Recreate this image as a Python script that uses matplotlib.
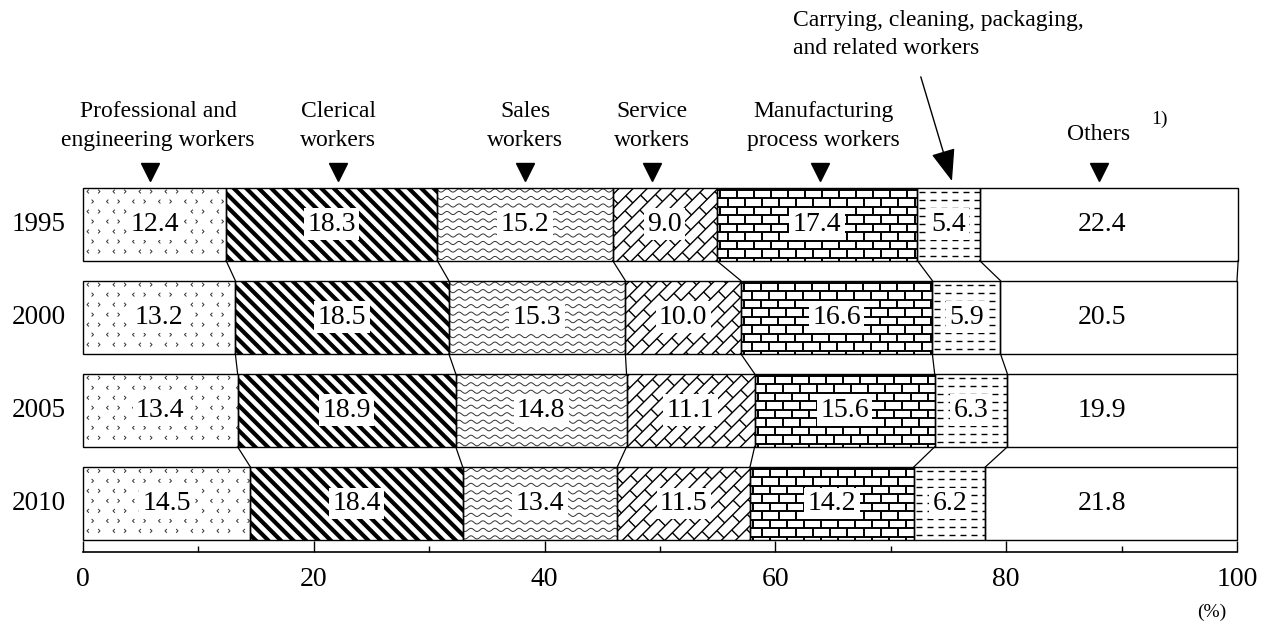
import numpy as np
import matplotlib
matplotlib.use("Agg")
import matplotlib.pyplot as plt
from matplotlib.patches import Rectangle
from matplotlib.collections import LineCollection
from matplotlib.ticker import MultipleLocator

plt.rcParams['font.family'] = ['Liberation Serif', 'DejaVu Serif']

# ---- data (percent shares by occupation) ----
years = ["1995", "2000", "2005", "2010"]
professional = [12.4, 13.2, 13.4, 14.5]
clerical = [18.3, 18.5, 18.9, 18.4]
sales = [15.2, 15.3, 14.8, 13.4]
service = [9.0, 10.0, 11.1, 11.5]
manufacturing = [17.4, 16.6, 15.6, 14.2]
carrying = [5.4, 5.9, 6.3, 6.2]
others = [22.4, 20.5, 19.9, 21.8]
ticks = [0, 20, 40, 60, 80, 100]

headers = ["Professional and\nengineering workers", "Clerical\nworkers", "Sales\nworkers",
           "Service\nworkers", "Manufacturing\nprocess workers", "Others"]
header_x = [6.5, 22.1, 38.3, 49.3, 64.2, 88.0]    # header text centres on the axis
marker_x = [5.8, 22.1, 38.3, 49.3, 63.9, 88.0]    # triangle positions
carrying_label = "Carrying, cleaning, packaging,\nand related workers"

series = [professional, clerical, sales, service, manufacturing, carrying, others]
vals = np.array(series).T                  # rows = years
cum = np.hstack([np.zeros((len(years), 1)), np.cumsum(vals, axis=1)])

BAR_H = 0.785
PX_Y = 93.0                                # pixels per bar pitch
HEAD_FS = 17


def ypx(p):
    """pixel row from top of the figure -> data y (above the bars)"""
    return -0.5 - (177.5 - p) / PX_Y


fig = plt.figure(figsize=(12.64, 6.25), dpi=100)
ax = fig.add_axes([83 / 1264, 73 / 625, 1154 / 1264, 374.5 / 625])
ax.set_xlim(0, 100)
ax.set_ylim(3 + 48.5 / PX_Y, -0.5)


# ---- fill patterns, built in display pixels ----
def chevrons(x0, y0, x1, y1):
    out, s = [], 1.9
    for j, y in enumerate(np.arange(y1 - 4, y0, -10.0)):
        for i, x in enumerate(np.arange(x0 + 4 + (j % 2) * 6.5, x1, 13.0)):
            d = 1 if (i + j) % 2 == 0 else -1
            out.append([(x + d * s, y + s), (x, y), (x + d * s, y - s)])
    return out


def diagonals(x0, y0, x1, y1):
    return [[(c - y1 - 5, y1 + 5), (c - y0 + 5, y0 - 5)]
            for c in np.arange(x0 + y0 - 20, x1 + y1 + 20, 12.5)]


def waves(x0, y0, x1, y1):
    xs = np.arange(x0 - 2, x1 + 3, 1.0)
    return [np.column_stack([xs, y + 1.6 * np.sin(2 * np.pi * xs / 12)])
            for y in np.arange(y1 - 3, y0, -7.5)]


def diag_bricks(x0, y0, x1, y1):
    U = np.array([1, 1]) / np.sqrt(2)
    V = np.array([-1, 1]) / np.sqrt(2)
    corners = np.array([[x0, y0], [x0, y1], [x1, y0], [x1, y1]])
    us, vs = corners @ U, corners @ V
    d, w, out = 10.0, 22.0, []
    for k, v in enumerate(np.arange(vs.min() - d, vs.max() + d, d)):
        out.append([us.min() * U + v * V, us.max() * U + v * V])
        for u in np.arange(us.min() + (k % 2) * w / 2, us.max(), w):
            out.append([u * U + v * V, u * U + (v + d) * V])
    return out


def bricks(x0, y0, x1, y1):
    h, w, out = 8.5, 17.0, []
    for k, y in enumerate(np.arange(y1 - 2, y0 - h, -h)):
        out.append([(x0 - 2, y), (x1 + 2, y)])
        for x in np.arange(x0 + 3 + (k % 2) * w / 2, x1, w):
            out.append([(x, y), (x, y - h)])
    return out


def dashes(x0, y0, x1, y1):
    return [[(x, y), (x + 6, y)]
            for y in np.arange(y1 - 4, y0, -8.0)
            for x in np.arange(x0 + 2, x1, 11.0)]


patterns = [(chevrons, 0.7, '#333333'), (diagonals, 3.0, 'black'), (waves, 0.7, '#333333'),
            (diag_bricks, 1.0, 'black'), (bricks, 1.4, 'black'), (dashes, 1.0, 'black'), (None, 0, None)]

inv = ax.transData.inverted()
for i in range(len(years)):
    for k in range(len(series)):
        left, width = cum[i, k], vals[i, k]
        fill = Rectangle((left, i - BAR_H / 2), width, BAR_H, facecolor='white',
                         edgecolor='none', zorder=1, clip_on=False)
        ax.add_patch(fill)
        fn, lw, col = patterns[k]
        if fn is not None:
            (px0, py0), (px1, py1) = ax.transData.transform([(left, i + BAR_H / 2),
                                                             (left + width, i - BAR_H / 2)])
            lines = [inv.transform(np.asarray(l, dtype=float)) for l in fn(px0, py0, px1, py1)]
            lc = LineCollection(lines, colors=col, linewidths=lw, zorder=2)
            ax.add_collection(lc)
            lc.set_clip_path(fill)
        ax.add_patch(Rectangle((left, i - BAR_H / 2), width, BAR_H, facecolor='none',
                               edgecolor='black', lw=1.0, zorder=3, clip_on=False))
        lx = cum[i, k] + width / 2 if k < len(series) - 1 else 88.3
        ax.text(lx, i, f"{vals[i, k]:.1f}", ha='center', va='center', fontsize=20, zorder=5,
                bbox=dict(boxstyle='square,pad=0.12', facecolor='white', edgecolor='none'))
    ax.text(-1.47, i, years[i], ha='right', va='center', fontsize=19.5, clip_on=False)

# connector lines between consecutive bars
for i in range(len(years) - 1):
    for k in range(1, len(series) + 1):
        ax.plot([cum[i, k], cum[i + 1, k]], [i + BAR_H / 2, i + 1 - BAR_H / 2],
                color='black', lw=0.9, zorder=3, clip_on=False)

# headers with triangles
for name, x, mx in zip(headers, header_x, marker_x):
    if name == "Others":
        ax.text(x, ypx(135), name, ha='center', va='center', fontsize=HEAD_FS, clip_on=False)
        ax.text(93.3, ypx(119), "1)", ha='center', va='center', fontsize=14, clip_on=False)
    else:
        ax.text(x, ypx(126), name, ha='center', va='center', fontsize=HEAD_FS,
                linespacing=1.45, clip_on=False)
    ax.plot(mx, ypx(172), marker='v', ms=13, color='black', clip_on=False)

ax.text(61.5, ypx(35), carrying_label, ha='left', va='center', fontsize=HEAD_FS,
        linespacing=1.45, clip_on=False)
ax.annotate("", xy=(75.3, ypx(181)), xytext=(72.6, ypx(77)), annotation_clip=False,
            arrowprops=dict(arrowstyle="-|>,head_length=1.0,head_width=0.38",
                            mutation_scale=20, color='black', lw=1.0,
                            shrinkA=0, shrinkB=0))

# axis
for side in ['left', 'top', 'right']:
    ax.spines[side].set_visible(False)
ax.spines['bottom'].set_linewidth(1.2)
ax.set_yticks([])
ax.set_xticks(ticks)
ax.xaxis.set_minor_locator(MultipleLocator(10))
ax.tick_params(axis='x', which='major', direction='in', length=8, width=1.0,
               labelsize=20, pad=11)
ax.tick_params(axis='x', which='minor', direction='in', length=4.5, width=1.0)
fig.text(1212 / 1264, 1 - 612 / 625, "(%)", ha='center', va='center', fontsize=14)

fig.savefig("out.png", dpi=100)
